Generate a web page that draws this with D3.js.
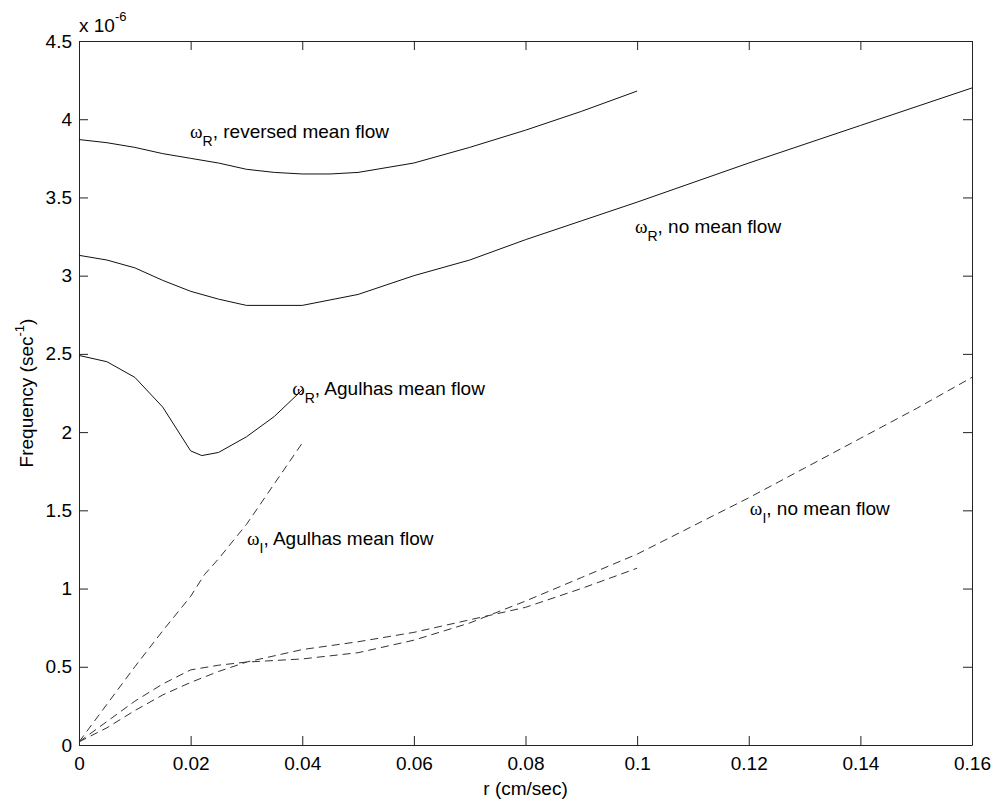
<!DOCTYPE html>
<html lang="en">
<head>
    <meta charset="UTF-8">
    <title>Frequency vs r</title>
    <script src="https://d3js.org/d3.v7.min.js"></script>
    <style>
        body, html {
            margin: 0;
            background: white;
            font-family: Arial, "Liberation Sans", sans-serif;
        }
        .tick text, .lbl { fill: #000; }
    </style>
</head>
<body>
    <svg id="chart"></svg>
    <script>
        // values in units of 1e-6 sec^-1
        const rRevR = [0, 0.005, 0.01, 0.015, 0.02, 0.025, 0.03, 0.035, 0.04, 0.045, 0.05, 0.06, 0.07, 0.08, 0.09, 0.1];
        const wRevR = [3.87, 3.85, 3.82, 3.78, 3.75, 3.72, 3.68, 3.66, 3.65, 3.65, 3.66, 3.72, 3.82, 3.93, 4.05, 4.18];

        const rNoR = [0, 0.005, 0.01, 0.015, 0.02, 0.025, 0.03, 0.04, 0.05, 0.06, 0.07, 0.08, 0.09, 0.1, 0.12, 0.14, 0.16];
        const wNoR = [3.13, 3.10, 3.05, 2.97, 2.90, 2.85, 2.81, 2.81, 2.88, 3.00, 3.10, 3.23, 3.35, 3.47, 3.72, 3.96, 4.20];

        const rAgR = [0, 0.005, 0.01, 0.015, 0.02, 0.022, 0.025, 0.03, 0.035, 0.04];
        const wAgR = [2.49, 2.45, 2.35, 2.16, 1.88, 1.85, 1.87, 1.97, 2.10, 2.27];

        const rAgI = [0, 0.005, 0.01, 0.015, 0.02, 0.0225, 0.025, 0.03, 0.035, 0.04];
        const wAgI = [0.02, 0.26, 0.50, 0.73, 0.95, 1.09, 1.19, 1.41, 1.67, 1.93];

        const rNoI = [0, 0.005, 0.01, 0.015, 0.02, 0.025, 0.03, 0.04, 0.05, 0.06, 0.07, 0.08, 0.09, 0.1, 0.11, 0.12, 0.13, 0.14, 0.15, 0.16];
        const wNoI = [0.02, 0.15, 0.28, 0.39, 0.48, 0.51, 0.53, 0.55, 0.59, 0.67, 0.78, 0.92, 1.07, 1.22, 1.40, 1.58, 1.77, 1.96, 2.15, 2.35];

        const rRevI = [0, 0.005, 0.01, 0.015, 0.02, 0.025, 0.03, 0.04, 0.05, 0.06, 0.07, 0.08, 0.09, 0.1];
        const wRevI = [0.02, 0.11, 0.22, 0.32, 0.40, 0.47, 0.53, 0.61, 0.66, 0.72, 0.80, 0.88, 1.00, 1.13];

        const xTicks = [0, 0.02, 0.04, 0.06, 0.08, 0.1, 0.12, 0.14, 0.16];
        const yTicks = [0, 0.5, 1, 1.5, 2, 2.5, 3, 3.5, 4, 4.5];

        // label anchors in data coordinates
        const labels = [
            { r: 0.0199, w: 3.88, sub: "R", text: ", reversed mean flow" },
            { r: 0.0996, w: 3.27, sub: "R", text: ", no mean flow" },
            { r: 0.0382, w: 2.24, sub: "R", text: ", Agulhas mean flow" },
            { r: 0.0301, w: 1.28, sub: "I", text: ", Agulhas mean flow" },
            { r: 0.1202, w: 1.47, sub: "I", text: ", no mean flow" }
        ];

        const svgWidth = 996, svgHeight = 802;
        const margin = { top: 41, right: 24, bottom: 57, left: 79 };
        const width = svgWidth - margin.left - margin.right;
        const height = svgHeight - margin.top - margin.bottom;

        const svg = d3.select("#chart")
            .attr("width", svgWidth)
            .attr("height", svgHeight);

        const g = svg.append("g")
            .attr("transform", `translate(${margin.left},${margin.top})`);

        const x = d3.scaleLinear().domain([0, 0.16]).range([0, width]);
        const y = d3.scaleLinear().domain([0, 4.5]).range([height, 0]);

        const fmt = d => d3.format("~g")(d);

        // axes (MATLAB style: inward ticks on all four sides)
        function styleAxis(sel) {
            sel.select(".domain").attr("stroke", "#222").attr("stroke-width", 1);
            sel.selectAll(".tick line").attr("stroke", "#222");
            sel.selectAll(".tick text").attr("font-size", 19).attr("font-family", "Arial, 'Liberation Sans', sans-serif");
        }

        g.append("g")
            .attr("transform", `translate(0,${height})`)
            .call(d3.axisBottom(x).tickValues(xTicks).tickFormat(fmt).tickSizeInner(-9).tickSizeOuter(0).tickPadding(12))
            .call(styleAxis);

        g.append("g")
            .call(d3.axisTop(x).tickValues(xTicks).tickFormat("").tickSizeInner(-9).tickSizeOuter(0))
            .call(styleAxis);

        g.append("g")
            .call(d3.axisLeft(y).tickValues(yTicks).tickFormat(fmt).tickSizeInner(-9).tickSizeOuter(0).tickPadding(7))
            .call(styleAxis);

        g.append("g")
            .attr("transform", `translate(${width},0)`)
            .call(d3.axisRight(y).tickValues(yTicks).tickFormat("").tickSizeInner(-9).tickSizeOuter(0))
            .call(styleAxis);

        // curves
        const line = d3.line()
            .x(d => x(d[0]))
            .y(d => y(d[1]));

        const series = [
            { r: rRevR, w: wRevR, dash: null },
            { r: rNoR, w: wNoR, dash: null },
            { r: rAgR, w: wAgR, dash: null },
            { r: rAgI, w: wAgI, dash: "8,5" },
            { r: rNoI, w: wNoI, dash: "8,5" },
            { r: rRevI, w: wRevI, dash: "8,5" }
        ];

        series.forEach(s => {
            g.append("path")
                .datum(d3.zip(s.r, s.w))
                .attr("d", line)
                .attr("fill", "none")
                .attr("stroke", s.dash ? "#333" : "#111")
                .attr("stroke-width", 1)
                .attr("stroke-dasharray", s.dash);
        });

        // annotations
        labels.forEach(l => {
            const t = g.append("text")
                .attr("class", "lbl")
                .attr("x", x(l.r))
                .attr("y", y(l.w))
                .attr("font-size", 19);
            t.append("tspan")
                .attr("font-family", "'Liberation Serif', 'DejaVu Serif', serif")
                .text("\u03C9");
            t.append("tspan")
                .attr("font-size", 14)
                .attr("dy", 8)
                .text(l.sub);
            t.append("tspan")
                .attr("dy", -8)
                .text(l.text);
        });

        // axis labels
        svg.append("text")
            .attr("class", "lbl")
            .attr("x", margin.left + width / 2)
            .attr("y", 795)
            .attr("text-anchor", "middle")
            .attr("font-size", 19)
            .text("r (cm/sec)");

        const yl = svg.append("text")
            .attr("class", "lbl")
            .attr("transform", `translate(33,${margin.top + height / 2}) rotate(-90)`)
            .attr("text-anchor", "middle")
            .attr("font-size", 19);
        yl.append("tspan").text("Frequency (sec");
        yl.append("tspan").attr("font-size", 13).attr("dy", -9).text("-1");
        yl.append("tspan").attr("dy", 9).text(")");

        const exp = svg.append("text")
            .attr("class", "lbl")
            .attr("x", margin.left)
            .attr("y", 32)
            .attr("font-size", 19);
        exp.append("tspan").text("x 10");
        exp.append("tspan").attr("font-size", 13).attr("dy", -11).text("-6");
    </script>
</body>
</html>
